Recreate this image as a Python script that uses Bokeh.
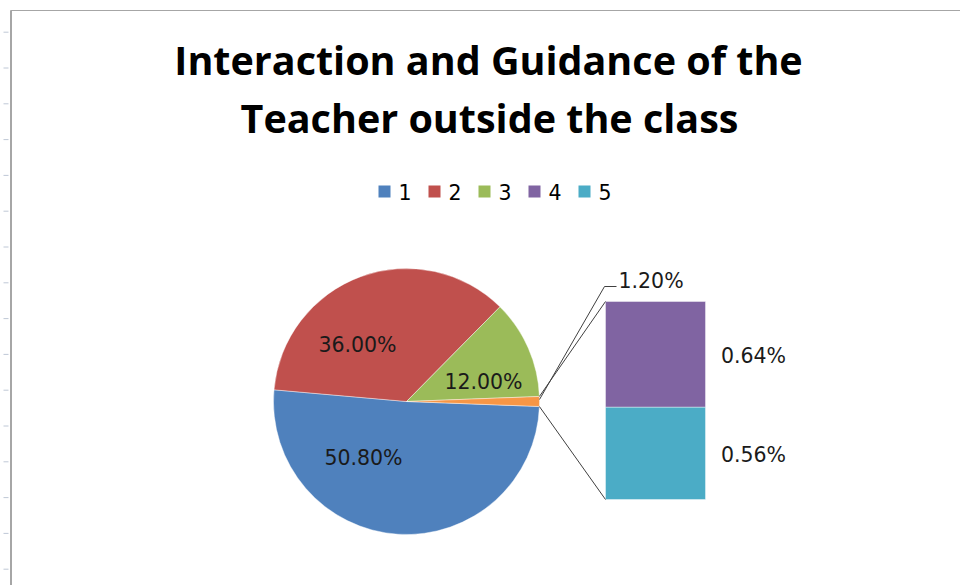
import numpy as np
from bokeh.plotting import figure
from bokeh.models import Range1d, ColumnDataSource
from bokeh.embed import file_html
from bokeh.resources import INLINE
from bokeh.core.properties import value

# ---------------- data ----------------
categories = ["1", "2", "3", "4", "5"]
shares = [50.8, 36.0, 12.0, 0.64, 0.56]          # percent
colors = ["#4F81BD", "#C0504D", "#9BBB59", "#8064A2", "#4BACC6"]
other_color = "#F79646"
title_lines = ["Interaction and Guidance of the", "Teacher outside the class"]
n_main = 3  # first three categories stay in the pie, the rest go to the bar

# ---------------- layout (page pixels) ----------------
W, H = 960, 585


def Y(py):
    return H - py


LABEL_FONT = value("DejaVu Sans")
LABEL_SIZE = "20.5px"

p = figure(width=W, height=H, x_range=Range1d(0, W), y_range=Range1d(0, H),
           output_backend="svg", toolbar_location=None,
           x_axis_location=None, y_axis_location=None, min_border=0)
p.grid.visible = False
p.outline_line_color = None
p.background_fill_color = "white"
p.border_fill_color = "white"

# spreadsheet row ticks at the far left
row_y = [31.7 + 35.8 * k for k in range(16)]
p.segment(x0=[3] * len(row_y), y0=[Y(v) for v in row_y], x1=[8] * len(row_y),
          y1=[Y(v) for v in row_y], line_color="#BFC8D6", line_width=1)

# chart frame (top and left edges)
p.segment(x0=[10], y0=[Y(10)], x1=[960], y1=[Y(10)], line_color="#A6A6A6", line_width=1)
p.segment(x0=[10.5], y0=[Y(10)], x1=[10.5], y1=[Y(590)], line_color="#A6A6A6", line_width=2)

# title
p.text(x=[488, 489], y=[Y(59.5), Y(117.5)], text=title_lines,
       text_font=value("Open Sans"), text_font_style="bold", text_font_size="39.5px",
       text_align="center", text_baseline="middle", text_color="black")

# legend
leg_x = [384 + 50 * i for i in range(len(categories))]
p.rect(x=leg_x, y=[Y(191)] * len(categories), width=12, height=12,
       fill_color=colors, line_color=None)
p.text(x=[x + 14 for x in leg_x], y=[Y(191)] * len(categories), text=categories,
       text_font=LABEL_FONT, text_font_size=LABEL_SIZE, text_align="left",
       text_baseline="middle", text_color="black")

# ---------------- pie ----------------
cx, cy, R = 406, Y(401), 133
other = sum(shares[n_main:])
pie_vals = shares[:n_main] + [other]
pie_cols = colors[:n_main] + [other_color]
start0 = -other * 3.6 / 2.0
edges = start0 - np.cumsum([0] + pie_vals) * 3.6
pie_src = ColumnDataSource(dict(
    start=np.radians(edges[1:]), end=np.radians(edges[:-1]), color=pie_cols))
p.wedge(x=cx, y=cy, radius=R, start_angle="start", end_angle="end",
        fill_color="color", line_color="white", line_width=0.6, line_alpha=0.7,
        source=pie_src)

pie_label_pos = [(363, 457), (357, 344.5), (483, 381.5)]
p.text(x=[q[0] for q in pie_label_pos], y=[Y(q[1]) for q in pie_label_pos],
       text=[f"{v:.2f}%" for v in shares[:n_main]],
       text_font=LABEL_FONT, text_font_size=LABEL_SIZE, text_align="center",
       text_baseline="middle", text_color="#1A1A1A")

# ---------------- bar of the "other" slice ----------------
bx0, bx1 = 605, 705
b_bottom, b_top = Y(499), Y(301)
scale = (b_top - b_bottom) / other
bar_vals = shares[n_main:][::-1]          # bottom first: 5, then 4
bar_cols = colors[n_main:][::-1]
bottoms = b_bottom + np.concatenate([[0], np.cumsum(bar_vals)[:-1]]) * scale
tops = b_bottom + np.cumsum(bar_vals) * scale
p.quad(left=bx0, right=bx1, bottom=bottoms, top=tops, fill_color=bar_cols,
       line_color="white", line_width=0.6, line_alpha=0.7)
p.text(x=[753] * len(bar_vals), y=list((bottoms + tops) / 2 - 2),
       text=[f"{v:.2f}%" for v in bar_vals],
       text_font=LABEL_FONT, text_font_size=LABEL_SIZE, text_align="center",
       text_baseline="middle", text_color="#1A1A1A")

# connector lines
a_up = np.radians(edges[0] + other * 3.6)
a_lo = np.radians(edges[0])
p.segment(x0=[cx + R * np.cos(a_up), cx + R * np.cos(a_lo)],
          y0=[cy + R * np.sin(a_up), cy + R * np.sin(a_lo)],
          x1=[bx0, bx0], y1=[b_top, b_bottom], line_color="#404040", line_width=1)

# leader for the "other" label
a_mid = np.radians(edges[0] + other * 3.6 * 0.7)
p.line(x=[cx + R * np.cos(a_mid), 604, 616], y=[cy + R * np.sin(a_mid), Y(286), Y(286)],
       line_color="#404040", line_width=1)
p.text(x=[618], y=[Y(280)], text=[f"{other:.2f}%"],
       text_font=LABEL_FONT, text_font_size=LABEL_SIZE, text_align="left",
       text_baseline="middle", text_color="#1A1A1A")

open("out.html", "w").write(file_html(p, INLINE))
